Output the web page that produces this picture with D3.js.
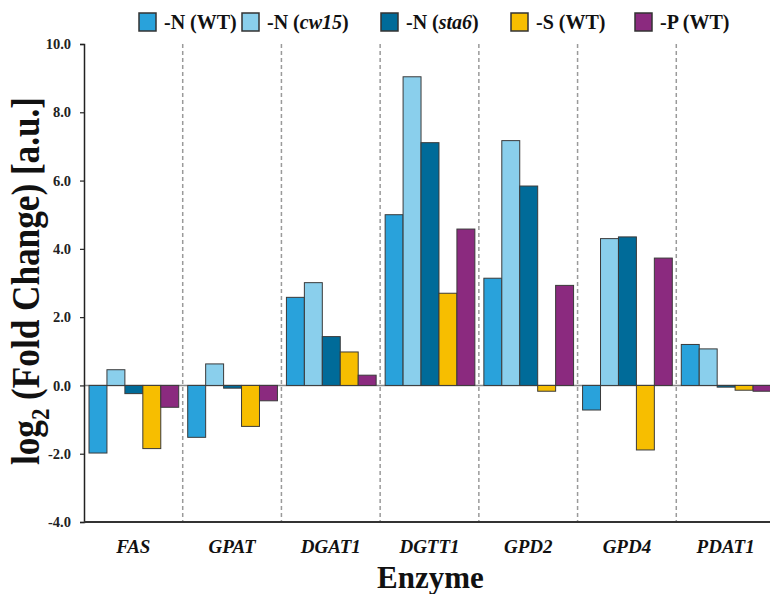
<!DOCTYPE html>
<html>
<head>
<meta charset="utf-8">
<script src="https://cdnjs.cloudflare.com/ajax/libs/d3/7.8.5/d3.min.js"></script>
<style>
  body { margin: 0; background: #fff; }
  svg text { font-family: "Liberation Serif", "Times New Roman", serif; font-weight: bold; }
</style>
</head>
<body>
<div id="chart"></div>
<script>
// data
var enzymes = ["FAS", "GPAT", "DGAT1", "DGTT1", "GPD2", "GPD4", "PDAT1"];
var seriesNames = ["-N (WT)", "-N (cw15)", "-N (sta6)", "-S (WT)", "-P (WT)"];
var nWT   = [-1.98, -1.52, 2.58, 5.00, 3.14, -0.72, 1.20];
var nCw15 = [0.46, 0.63, 3.01, 9.04, 7.17, 4.30, 1.07];
var nSta6 = [-0.24, -0.08, 1.43, 7.11, 5.84, 4.35, -0.05];
var sWT   = [-1.85, -1.20, 0.98, 2.70, -0.17, -1.89, -0.14];
var pWT   = [-0.64, -0.45, 0.30, 4.58, 2.93, 3.73, -0.17];
var yTicks = [-4, -2, 0, 2, 4, 6, 8, 10];

var allSeries = [nWT, nCw15, nSta6, sWT, pWT];
var colors = ["#29a2db", "#8acfec", "#006b99", "#f7be00", "#8b2a7f"];

var svgWidth = 770, svgHeight = 594;
var margin = {top: 44, left: 84, bottom: 72};
var plotRight = 775;
var chartHeight = svgHeight - margin.top - margin.bottom;

var svg = d3.select("#chart").append("svg")
  .attr("width", svgWidth)
  .attr("height", svgHeight);

var x0 = d3.scaleBand()
  .domain(enzymes)
  .range([margin.left, plotRight]);

var x1 = d3.scaleBand()
  .domain(d3.range(seriesNames.length))
  .range([5, x0.bandwidth() - 4]);

var y = d3.scaleLinear()
  .domain([-4, 10])
  .range([margin.top + chartHeight, margin.top]);

// dashed dividers between groups
svg.selectAll(".divider")
  .data(enzymes.slice(1))
  .enter().append("line")
  .attr("x1", d => x0(d)).attr("x2", d => x0(d))
  .attr("y1", y(10)).attr("y2", y(-4))
  .attr("stroke", "#9a9a9a")
  .attr("stroke-width", 1.5)
  .attr("stroke-dasharray", "4,3");

// zero line
svg.append("line")
  .attr("x1", margin.left).attr("x2", plotRight)
  .attr("y1", y(0)).attr("y2", y(0))
  .attr("stroke", "#8a8a8a")
  .attr("stroke-width", 1.5);

// bars
var groups = svg.selectAll(".group")
  .data(enzymes)
  .enter().append("g")
  .attr("transform", d => `translate(${x0(d)},0)`);

groups.selectAll("rect")
  .data((d, i) => allSeries.map((s, k) => ({k: k, v: s[i]})))
  .enter().append("rect")
  .attr("x", d => x1(d.k))
  .attr("width", x1.bandwidth())
  .attr("y", d => y(Math.max(0, d.v)))
  .attr("height", d => Math.abs(y(d.v) - y(0)))
  .attr("fill", d => colors[d.k])
  .attr("stroke", "#3a3a3a")
  .attr("stroke-width", 1);

// axes
var leftAxis = d3.axisLeft(y)
  .tickValues(yTicks)
  .tickFormat(d => d.toFixed(1))
  .tickSize(4)
  .tickPadding(9);

var gy = svg.append("g")
  .attr("transform", `translate(${margin.left},0)`)
  .call(leftAxis)
  .attr("font-family", null)
  .attr("font-size", null);
gy.select(".domain").attr("stroke", "#222").attr("stroke-width", 1.5);
gy.selectAll(".tick line").attr("stroke", "#222").attr("stroke-width", 1.2);
gy.selectAll(".tick text")
  .attr("fill", "#222")
  .style("font-size", "14.5px");

svg.append("line")
  .attr("x1", margin.left).attr("x2", plotRight)
  .attr("y1", y(-4)).attr("y2", y(-4))
  .attr("stroke", "#333")
  .attr("stroke-width", 2);

// category labels
svg.selectAll(".cat")
  .data(enzymes)
  .enter().append("text")
  .attr("x", d => x0(d) + x0.bandwidth() / 2)
  .attr("y", 553)
  .attr("text-anchor", "middle")
  .style("font-style", "italic")
  .style("font-size", "19px")
  .attr("fill", "#111")
  .text(d => d);

// axis titles
svg.append("text")
  .attr("x", (margin.left + plotRight) / 2 + 1)
  .attr("y", 588)
  .attr("text-anchor", "middle")
  .style("font-size", "31px")
  .attr("fill", "#111")
  .text("Enzyme");

var yt = svg.append("text")
  .attr("transform", `translate(39, 281) rotate(-90) scale(0.88, 1)`)
  .attr("text-anchor", "middle")
  .style("font-size", "40px")
  .attr("fill", "#111");
yt.append("tspan").text("log");
yt.append("tspan").attr("dy", 10).style("font-size", "26px").text("2");
yt.append("tspan").attr("dy", -10).text(" (Fold Change) [a.u.]");

// legend
var legendX = [139, 242, 381, 511, 635];
var legendParts = [
  ["-N (WT)", "", ""],
  ["-N (", "cw15", ")"],
  ["-N (", "sta6", ")"],
  ["-S (WT)", "", ""],
  ["-P (WT)", "", ""]
];
var legend = svg.selectAll(".legend")
  .data(seriesNames)
  .enter().append("g")
  .attr("transform", (d, i) => `translate(${legendX[i]}, 13)`);

legend.append("rect")
  .attr("width", 17).attr("height", 18)
  .attr("fill", (d, i) => colors[i])
  .attr("stroke", "#333")
  .attr("stroke-width", 1.5);

var lt = legend.append("text")
  .attr("x", 25).attr("y", 16)
  .style("font-size", "20px")
  .attr("fill", "#111");
lt.append("tspan").text((d, i) => legendParts[i][0]);
lt.append("tspan").style("font-style", "italic").text((d, i) => legendParts[i][1]);
lt.append("tspan").text((d, i) => legendParts[i][2]);
</script>
</body>
</html>
